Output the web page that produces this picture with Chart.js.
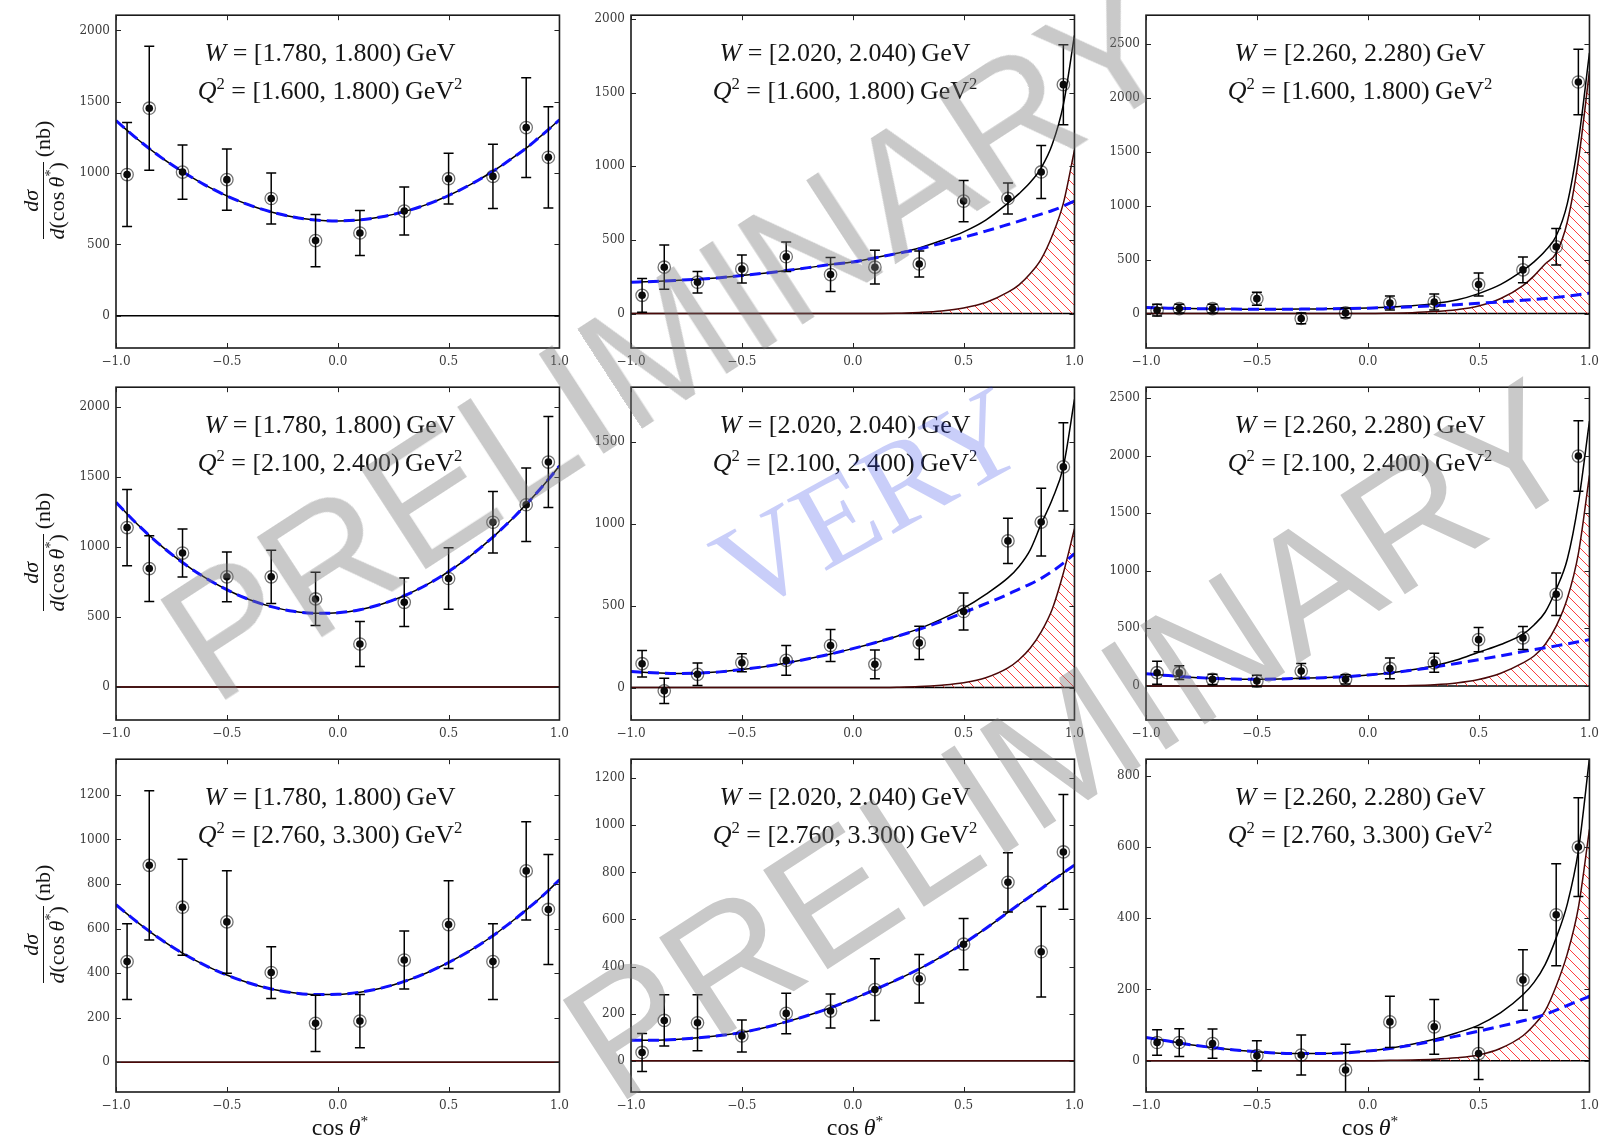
<!DOCTYPE html>
<html><head><meta charset="utf-8">
<script src="https://cdn.jsdelivr.net/npm/chart.js@4.4.1/dist/chart.umd.min.js"></script>
<style>
html,body{margin:0;padding:0;background:#fff;}
#wrap{position:relative;width:1603px;height:1141px;overflow:hidden;background:#fff;}
#wrap canvas{position:absolute;}
.ann{position:absolute;width:468px;text-align:center;font-family:'Liberation Serif',serif;font-size:26px;line-height:30px;color:#151515;white-space:nowrap;}
.ann sup,.xlab sup,.ylab sup{font-size:0.64em;vertical-align:baseline;position:relative;top:-0.6em;line-height:0;}
.ylab{position:absolute;width:150px;height:56px;display:flex;align-items:center;justify-content:center;transform:rotate(-90deg);font-family:'Liberation Serif',serif;font-size:22px;color:#151515;white-space:nowrap;}
.frac{display:inline-flex;flex-direction:column;align-items:center;line-height:23px;}
.frac .num{align-self:stretch;text-align:center;border-bottom:1.3px solid #151515;padding-bottom:1px;}
.frac .den{padding-top:1px;}
.nb{margin-left:5px;}
.xlab{position:absolute;width:448px;text-align:center;font-family:'Liberation Serif',serif;font-size:24px;line-height:30px;color:#151515;white-space:nowrap;}
.wm{position:absolute;white-space:nowrap;line-height:1;pointer-events:none;transform-origin:50% 50%;}
</style></head>
<body><div id="wrap"></div>
<script>
// ---------- DATA ----------
const xPoints = [-0.95,-0.85,-0.7,-0.5,-0.3,-0.1,0.1,0.3,0.5,0.7,0.85,0.95];
const xCurve  = [-1,-0.9,-0.8,-0.7,-0.6,-0.5,-0.4,-0.3,-0.2,-0.1,0,0.1,0.2,0.3,0.4,0.5,0.6,0.7,0.75,0.8,0.85,0.9,0.95,1];
const xTicks = [-1,-0.5,0,0.5,1];
const xTickLabels = ['\u22121.0','\u22120.5','0.0','0.5','1.0'];
const wBins  = ['[1.780, 1.800)','[2.020, 2.040)','[2.260, 2.280)'];
const q2Bins = ['[1.600, 1.800)','[2.100, 2.400)','[2.760, 3.300)'];

// row 1
const y11 = [990,1455,1007,954,822,527,580,734,961,977,1319,1111];
const e11 = [365,435,190,215,178,183,158,168,178,225,350,355];
const tot11 = [1368,1234,1114,1010,918,840,777,728,692,671,665,672,694,730,779,843,921,1013,1064,1119,1175,1239,1305,1374];
const bkg11 = [1368,1234,1114,1010,918,840,777,728,692,671,665,672,694,730,779,843,921,1013,1064,1119,1175,1239,1305,1374];
const comp11 = null;
const yTicks11 = [0,500,1000,1500,2000]; const yLim11 = [-226,2107];

const y12 = [124,315,213,303,386,265,315,337,764,782,962,1555];
const e12 = [115,150,73,95,100,115,115,88,140,105,180,272];
const tot12 = [213,218,225,233,244,258,274,292,312,333,350,379,410,446,496,555,635,750,815,890,990,1150,1420,1890];
const bkg12 = [213,218,225,233,244,258,274,292,312,333,350,378,408,438,478,518,560,605,628,652,676,700,730,765];
const comp12 = [0,0,0,0,0,0,0,0,0,0,0,1,2,8,18,38,75,145,195,270,370,530,750,1110];
const yTicks12 = [0,500,1000,1500,2000]; const yLim12 = [-234,2027];

const y13 = [31,46,46,138,-46,6,98,107,270,405,620,2150];
const e13 = [55,40,40,60,50,45,65,75,107,120,170,305];
const tot13 = [55,50,46,43,41,40,40,41,43,46,52,60,72,92,125,185,270,400,480,580,720,1020,1600,2420];
const bkg13 = [55,50,46,43,41,40,40,41,43,46,50,56,63,72,82,95,108,123,131,140,150,161,174,190];
const comp13 = [0,0,0,0,0,0,0,0,0,0,0,3,8,18,35,70,140,260,350,460,560,850,1420,2250];
const yTicks13 = [0,500,1000,1500,2000,2500]; const yLim13 = [-320,2770];

// row 2
const y21 = [1139,846,957,787,787,629,307,605,775,1177,1302,1607];
const e21 = [272,235,172,178,190,190,160,173,220,219,262,325];
const tot21 = [1319,1157,1014,889,783,695,625,574,541,526,530,552,593,652,729,825,939,1071,1145,1222,1305,1391,1483,1579];
const bkg21 = [1319,1157,1014,889,783,695,625,574,541,526,530,552,593,652,729,825,939,1071,1145,1222,1305,1391,1483,1579];
const comp21 = [0,0,0,0,0,0,0,0,0,0,0,0,0,0,0,0,0,0,0,0,0,0,0,0];
const yTicks21 = [0,500,1000,1500,2000]; const yLim21 = [-236,2142];

const y22 = [146,-20,81,152,166,257,142,273,465,896,1011,1348];
const e22 = [81,77,69,55,91,98,88,101,113,138,207,270];
const tot22 = [98,90,86,88,96,110,128,150,176,205,238,274,314,360,418,485,570,670,740,840,1000,1150,1350,1760];
const bkg22 = [98,90,86,88,96,110,128,150,176,205,238,274,313,356,405,458,513,570,602,632,667,710,760,819];
const comp22 = [0,0,0,0,0,0,0,0,0,0,0,0,2,6,15,30,60,120,170,240,340,480,700,970];
const yTicks22 = [0,500,1000,1500]; const yLim22 = [-198,1835];

const y23 = [115,115,57,43,129,57,152,201,402,417,796,1997];
const e23 = [100,60,45,50,65,40,90,82,105,100,184,306];
const tot23 = [106,90,76,66,60,57,60,66,72,80,95,113,140,175,225,293,360,450,530,640,840,1100,1590,2300];
const bkg23 = [106,90,76,66,60,57,60,66,72,80,95,113,137,164,195,228,262,298,315,332,348,365,383,402];
const comp23 = [0,0,0,0,0,0,0,0,0,0,0,0,3,10,25,55,110,200,260,360,520,760,1150,1830];
const yTicks23 = [0,500,1000,1500,2000,2500]; const yLim23 = [-296,2595];

// row 3
const y31 = [452,884,696,630,403,175,185,459,618,452,859,686];
const e31 = [170,335,215,230,116,126,119,130,197,170,220,247];
const tot31 = [707,626,553,490,436,392,356,329,312,304,305,315,334,363,401,448,503,568,605,643,684,726,771,819];
const bkg31 = [707,626,553,490,436,392,356,329,312,304,305,315,334,363,401,448,503,568,605,643,684,726,771,819];
const comp31 = [0,0,0,0,0,0,0,0,0,0,0,0,0,0,0,0,0,0,0,0,0,0,0,0];
const yTicks31 = [0,200,400,600,800,1000,1200]; const yLim31 = [-133,1360];

const y32 = [35,171,161,105,201,211,302,348,495,758,463,887];
const e32 = [81,109,119,68,86,72,131,103,109,126,192,244];
const tot32 = [87,87,90,97,107,120,140,165,193,225,262,302,344,390,442,498,562,630,664,698,731,765,798,831];
const bkg32 = [87,87,90,97,107,120,140,165,193,225,262,302,344,390,442,498,562,630,664,698,731,765,798,831];
const comp32 = [0,0,0,0,0,0,0,0,0,0,0,0,0,0,0,0,0,0,0,0,0,0,0,0];
const yTicks32 = [0,200,400,600,800,1000,1200]; const yLim32 = [-133,1281];

const y33 = [51,51,48,14,16,-26,109,95,20,227,410,600];
const e33 = [36,39,41,42,56,72,72,77,73,85,143,139];
const tot33 = [65,55,45,37,30,25,21,20,20,22,27,35,46,60,78,100,135,185,220,270,345,440,590,850];
const bkg33 = [65,55,45,37,30,25,21,20,20,22,27,34,44,56,69,83,97,112,120,130,142,155,168,181];
const comp33 = [0,0,0,0,0,0,0,0,0,0,0,1,2,4,8,16,35,70,100,140,210,300,430,650];
const yTicks33 = [0,200,400,600,800]; const yLim33 = [-88,847];

const zeroLine = [0,0];
const zeroLineX = [-1,1];

// ---------- LAYOUT ----------
const panelLeft = [116,631,1146];
const panelTop  = [12,384,756];
const PW = 448, PH = 336, PADL = 70, PADT = 10, PADR = 12, PADB = 30;

const panels = [
 [ {y:y11,e:e11,tot:tot11,bkg:bkg11,comp:comp11,yt:yTicks11,yl:yLim11},
   {y:y12,e:e12,tot:tot12,bkg:bkg12,comp:comp12,yt:yTicks12,yl:yLim12},
   {y:y13,e:e13,tot:tot13,bkg:bkg13,comp:comp13,yt:yTicks13,yl:yLim13} ],
 [ {y:y21,e:e21,tot:tot21,bkg:bkg21,comp:comp21,yt:yTicks21,yl:yLim21},
   {y:y22,e:e22,tot:tot22,bkg:bkg22,comp:comp22,yt:yTicks22,yl:yLim22},
   {y:y23,e:e23,tot:tot23,bkg:bkg23,comp:comp23,yt:yTicks23,yl:yLim23} ],
 [ {y:y31,e:e31,tot:tot31,bkg:bkg31,comp:comp31,yt:yTicks31,yl:yLim31},
   {y:y32,e:e32,tot:tot32,bkg:bkg32,comp:comp32,yt:yTicks32,yl:yLim32},
   {y:y33,e:e33,tot:tot33,bkg:bkg33,comp:comp33,yt:yTicks33,yl:yLim33} ]
];

// hatch pattern
function makeHatch(){
  const c = document.createElement('canvas'); c.width = 10; c.height = 10;
  const g = c.getContext('2d');
  g.strokeStyle = 'rgba(255,40,40,0.9)'; g.lineWidth = 1;
  g.beginPath();
  g.moveTo(-5,5); g.lineTo(5,15);
  g.moveTo(0,0); g.lineTo(10,10);
  g.moveTo(5,-5); g.lineTo(15,5);
  g.stroke();
  return g.createPattern(c,'repeat');
}

const framePlugin = {
  id:'frame',
  beforeDatasetDraw(chart, args){
    const ds = chart.data.datasets[args.index];
    if(!ds.errors) return;
    const {ctx, chartArea:a, scales:{y}} = chart;
    const meta = chart.getDatasetMeta(args.index);
    ctx.save();
    ctx.beginPath(); ctx.rect(a.left, a.top, a.right-a.left, a.bottom-a.top); ctx.clip();
    ctx.strokeStyle = '#000'; ctx.lineWidth = 1.5;
    meta.data.forEach((pt,j)=>{
      const v = ds.data[j].y, e = ds.errors[j];
      const px = pt.x, y1 = y.getPixelForValue(v+e), y2 = y.getPixelForValue(v-e);
      ctx.beginPath();
      ctx.moveTo(px,y1); ctx.lineTo(px,y2);
      ctx.moveTo(px-5,y1); ctx.lineTo(px+5,y1);
      ctx.moveTo(px-5,y2); ctx.lineTo(px+5,y2);
      ctx.stroke();
    });
    ctx.restore();
  },
  afterDraw(chart){
    const {ctx, chartArea:a, scales:{x,y}} = chart;
    ctx.save();
    ctx.strokeStyle = '#1a1a1a'; ctx.lineWidth = 1.6;
    ctx.strokeRect(a.left, a.top, a.right-a.left, a.bottom-a.top);
    ctx.lineWidth = 1; ctx.strokeStyle = '#222';
    ctx.beginPath();
    x.ticks.forEach(t=>{
      const px = Math.round(x.getPixelForValue(t.value))+0.5;
      ctx.moveTo(px,a.bottom); ctx.lineTo(px,a.bottom-5);
      ctx.moveTo(px,a.top); ctx.lineTo(px,a.top+5);
    });
    y.ticks.forEach(t=>{
      const py = Math.round(y.getPixelForValue(t.value))+0.5;
      ctx.moveTo(a.left,py); ctx.lineTo(a.left+5,py);
      ctx.moveTo(a.right,py); ctx.lineTo(a.right-5,py);
    });
    ctx.stroke();
    ctx.restore();
  }
};

const wrap = document.getElementById('wrap');
const hatch = makeHatch();
const tickFont = {family:"'DejaVu Serif', serif", size:12};

panels.forEach((row,r)=>row.forEach((p,c)=>{
  const L = panelLeft[c], T = panelTop[r];
  const cv = document.createElement('canvas');
  const W = PADL+PW+PADR, H = PADT+PH+PADB;
  cv.width = W; cv.height = H;
  cv.style.width = W+'px'; cv.style.height = H+'px';
  cv.style.left = (L-PADL)+'px'; cv.style.top = (T-PADT)+'px';
  wrap.appendChild(cv);

  const pts = xPoints.map((x,i)=>({x, y:p.y[i]}));
  const curve = arr => xCurve.map((x,i)=>({x, y:arr[i]}));
  const datasets = [
    {type:'scatter', data:pts, pointRadius:3.8, pointBackgroundColor:'#0a0a0a', pointBorderWidth:0, order:0},
    {type:'scatter', data:pts, errors:p.e, pointRadius:6.2, pointBackgroundColor:'rgba(0,0,0,0)', pointBorderColor:'rgba(0,0,0,0.55)', pointBorderWidth:1.3, order:1},
    {type:'line', data:curve(p.bkg), borderColor:'#1010ff', borderWidth:3, borderDash:[11,6], pointRadius:0, fill:false, cubicInterpolationMode:'monotone', order:2},
    {type:'line', data:curve(p.tot), borderColor:'#000', borderWidth:1.5, pointRadius:0, fill:false, cubicInterpolationMode:'monotone', order:3},
  ];
  if(p.comp){
    datasets.push({type:'line', data:curve(p.comp), borderColor:'#4a0808', borderWidth:1.5, backgroundColor:hatch, fill:'origin', pointRadius:0, cubicInterpolationMode:'monotone', order:4});
  }
  datasets.push({type:'line', data:zeroLineX.map((x,i)=>({x, y:zeroLine[i]})), borderColor:'#000', borderWidth:1.5, pointRadius:0, fill:false, order:5});

  new Chart(cv, {
    type:'line',
    data:{datasets},
    options:{
      responsive:false, animation:false, devicePixelRatio:1,
      layout:{padding:{top:PADT,right:PADR,left:0,bottom:0}},
      plugins:{legend:{display:false}, tooltip:{enabled:false}},
      events:[],
      scales:{
        x:{type:'linear', min:-1, max:1,
           grid:{display:false, drawTicks:false}, border:{display:false},
           afterBuildTicks:s=>{ s.ticks = xTicks.map(v=>({value:v})); },
           afterFit:s=>{ s.height = PADB; },
           ticks:{padding:7, maxRotation:0, minRotation:0, autoSkip:false, font:tickFont, color:'#3a3a3a',
                  callback:v=>{ const i = xTicks.findIndex(t=>Math.abs(t-v)<1e-9); return i>=0 ? xTickLabels[i] : ''; }}},
        y:{type:'linear', min:p.yl[0], max:p.yl[1],
           grid:{display:false, drawTicks:false}, border:{display:false},
           afterBuildTicks:s=>{ s.ticks = p.yt.map(v=>({value:v})); },
           afterFit:s=>{ s.width = PADL; },
           ticks:{padding:6, autoSkip:false, font:tickFont, color:'#3a3a3a', callback:v=>String(v)}}
      }
    },
    plugins:[framePlugin]
  });

  const a1 = document.createElement('div');
  a1.className = 'ann'; a1.style.left = (L+214-234)+'px'; a1.style.top = (T+41-15)+'px';
  a1.innerHTML = '<i>W</i> = ' + wBins[c] + '&#8201;GeV';
  wrap.appendChild(a1);
  const a2 = document.createElement('div');
  a2.className = 'ann'; a2.style.left = (L+214-234)+'px'; a2.style.top = (T+79-15)+'px';
  a2.innerHTML = '<i>Q</i><sup>2</sup> = ' + q2Bins[r] + '&#8201;GeV<sup>2</sup>';
  wrap.appendChild(a2);

  if(c===0){
    const yl = document.createElement('div');
    yl.className = 'ylab';
    yl.style.left = (43-75)+'px'; yl.style.top = (T+PH/2-28)+'px';
    yl.innerHTML = '<span class="frac"><span class="num"><i>d&sigma;</i></span><span class="den"><i>d</i>(cos&#8201;<i>&theta;</i><sup>*</sup>)</span></span><span class="nb">(nb)</span>';
    wrap.appendChild(yl);
  }
  if(r===2){
    const xl = document.createElement('div');
    xl.className = 'xlab';
    xl.style.left = L+'px'; xl.style.top = '1112px';
    xl.innerHTML = 'cos&#8201;<i>&theta;</i><sup>*</sup>';
    wrap.appendChild(xl);
  }
}));

// watermarks
function addWM(text, cx, cy, font, color, angle){
  const d = document.createElement('div');
  d.className = 'wm'; d.textContent = text;
  d.style.font = font; d.style.color = color; d.style.lineHeight = '1';
  wrap.appendChild(d);
  const w = d.offsetWidth, h = d.offsetHeight;
  d.style.left = (cx - w/2)+'px'; d.style.top = (cy - h/2)+'px';
  d.style.transform = 'rotate('+angle+'deg)';
}
addWM('PRELIMINARY', 668, 340, "172px 'Liberation Sans'", 'rgba(120,120,120,0.40)', -33);
addWM('PRELIMINARY', 1070, 740, "172px 'Liberation Sans'", 'rgba(120,120,120,0.40)', -33);
addWM('VERY', 869, 500, "124px 'Liberation Serif'", 'rgba(40,60,230,0.25)', -29);
</script>
</body></html>
